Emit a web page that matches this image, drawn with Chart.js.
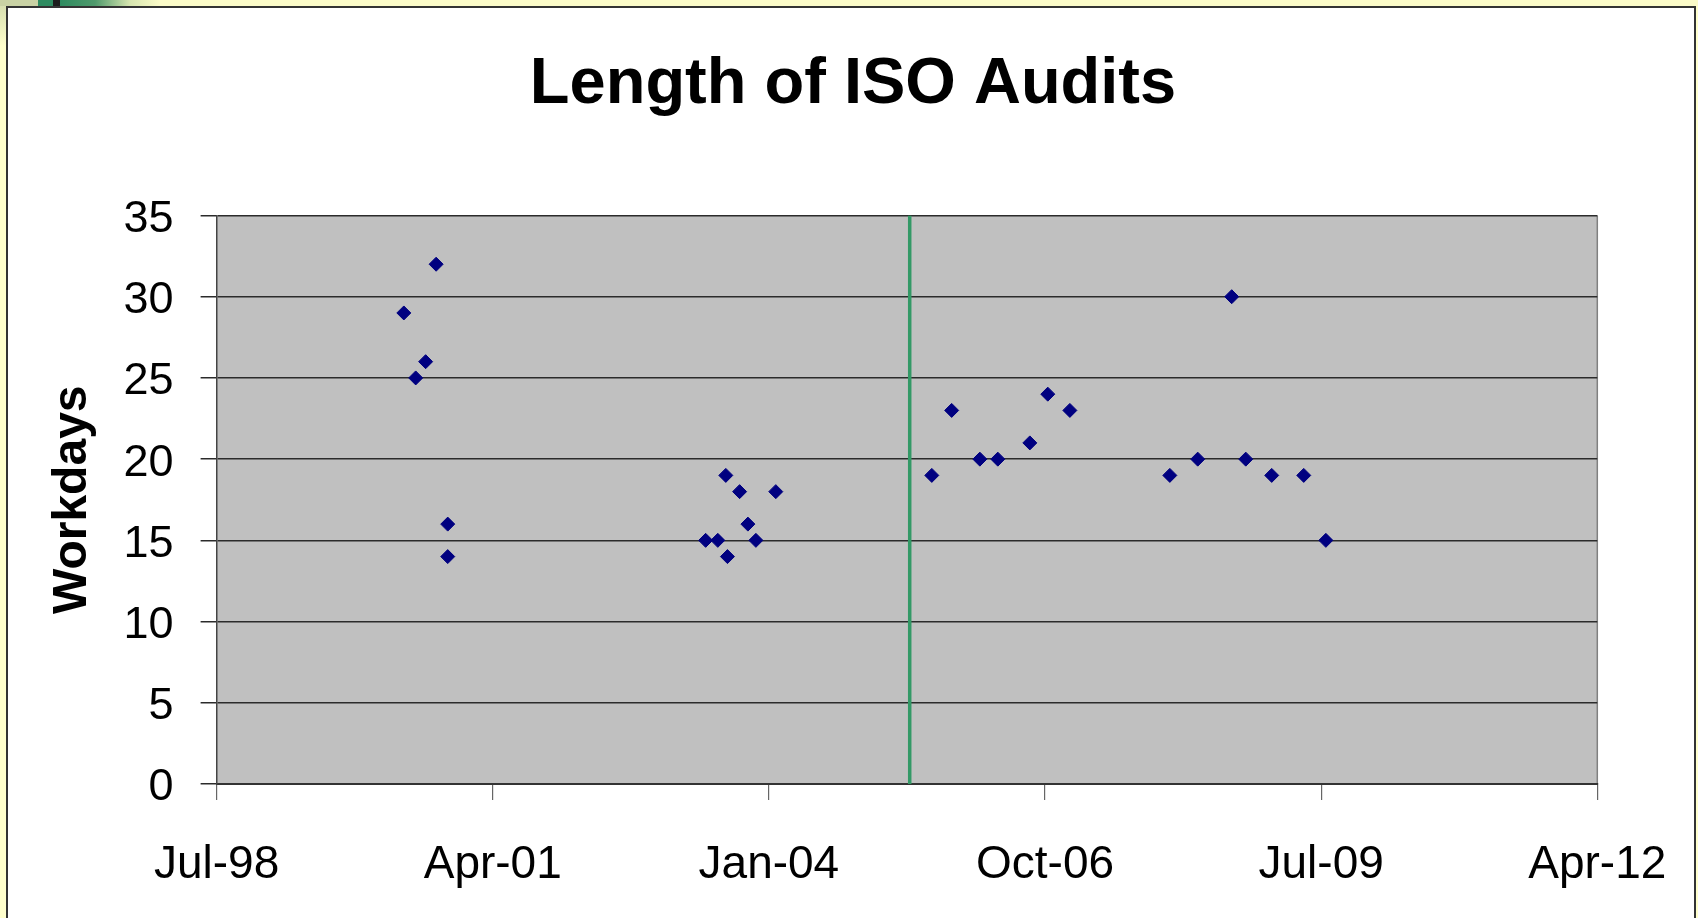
<!DOCTYPE html>
<html>
<head>
<meta charset="utf-8">
<script src="https://cdn.jsdelivr.net/npm/chart.js@4.4.1/dist/chart.umd.min.js"></script>
<style>
  html, body { margin: 0; padding: 0; width: 1698px; height: 918px; overflow: hidden; background: #FFFFCC; }
  #topstrip { position: absolute; left: 0; top: 0; width: 1698px; height: 6px;
    background: linear-gradient(to right, #c9d2a4 0px, #c9d2a4 38px, #2e8b60 38px, #2e8b60 53px, #1c1c1c 53px, #1c1c1c 60px, #2e8b60 60px, #4f9a6c 95px, #d7e6b0 130px, #fbfbc8 160px, #fbfbc8 1698px); }
  #leftstrip { position: absolute; left: 0; top: 6px; width: 6px; height: 40px; background: linear-gradient(#d8e0b0, #FFFFCC); }
  #panel { position: absolute; left: 6px; top: 6px; width: 1686px; height: 930px; background: #ffffff; border: 2px solid #333333; }
  #wrap { position: absolute; left: 0; top: 0; width: 1698px; height: 918px; }
</style>
</head>
<body>
<div id="topstrip"></div>
<div id="leftstrip"></div>
<div id="panel"></div>
<div id="wrap"><canvas id="c" width="1698" height="918"></canvas></div>
<script>
// ---- data ----
const chartTitle = 'Length of ISO Audits';
const yAxisTitle = 'Workdays';
const auditDates = [
  '2000-06-01', '2000-07-14', '2000-08-19', '2000-09-26', '2000-11-07', '2000-11-07',
  '2003-05-30', '2003-07-13', '2003-08-11', '2003-08-17', '2003-09-30', '2003-10-30', '2003-11-28', '2004-02-08',
  '2005-08-26', '2005-11-06', '2006-02-16', '2006-04-22', '2006-08-16', '2006-10-20', '2007-01-08',
  '2008-01-05', '2008-04-15', '2008-08-16', '2008-10-06', '2009-01-08', '2009-05-04', '2009-07-23'
];
const auditWorkdays = [
  29, 25, 26, 32, 16, 14,
  15, 15, 19, 14, 18, 16, 15, 18,
  19, 23, 20, 20, 21, 24, 23,
  19, 20, 30, 20, 19, 19, 15
];
const markerDate = '2005-06-07';
const markerRange = [0, 35];
const xTickValues = [36000, 37000, 38000, 39000, 40000, 41000]; // date serials
const xTickLabels = ['Jul-98', 'Apr-01', 'Jan-04', 'Oct-06', 'Jul-09', 'Apr-12'];
const yTickValues = [0, 5, 10, 15, 20, 25, 30, 35];

// date string -> spreadsheet date serial
function toSerial(s) {
  const [y, m, d] = s.split('-').map(Number);
  return Date.UTC(y, m - 1, d) / 86400000 + 25569;
}

const scatterData = auditDates.map((d, i) => ({ x: toSerial(d), y: auditWorkdays[i] }));
const markerData = markerRange.map(v => ({ x: toSerial(markerDate), y: v }));

const FONT = "'Liberation Sans', Arial, sans-serif";

const plotBg = {
  id: 'plotBg',
  beforeDraw(chart) {
    const { ctx, chartArea: a } = chart;
    ctx.save();
    ctx.fillStyle = '#C0C0C0';
    ctx.fillRect(a.left, a.top, a.right - a.left, a.bottom - a.top);
    ctx.strokeStyle = '#808080';
    ctx.lineWidth = 1.5;
    ctx.beginPath();
    ctx.moveTo(a.right, a.top);
    ctx.lineTo(a.right, a.bottom);
    ctx.stroke();
    ctx.restore();
  }
};

new Chart(document.getElementById('c'), {
  type: 'scatter',
  data: {
    datasets: [
      {
        label: 'Audits',
        data: scatterData,
        pointStyle: 'rectRot',
        pointRadius: 7,
        pointHoverRadius: 7,
        backgroundColor: '#000080',
        borderColor: '#000080',
        borderWidth: 1
      },
      {
        label: 'Change',
        data: markerData,
        showLine: true,
        pointRadius: 0,
        borderColor: '#339966',
        borderWidth: 3.5
      }
    ]
  },
  options: {
    responsive: false,
    animation: false,
    events: [],
    layout: { padding: { left: 8, top: 0, right: 0, bottom: 0 } },
    plugins: {
      legend: { display: false },
      tooltip: { enabled: false },
      title: {
        display: true,
        text: chartTitle,
        color: '#000000',
        font: { family: FONT, size: 65, weight: 'bold', lineHeight: 1.2 },
        padding: { top: 46, bottom: 91.5 }
      }
    },
    scales: {
      x: {
        type: 'linear',
        min: xTickValues[0],
        max: xTickValues[xTickValues.length - 1],
        afterBuildTicks(scale) { scale.ticks = xTickValues.map(v => ({ value: v })); },
        afterFit(scale) { scale.height = 134; scale.paddingLeft = 0; scale.paddingRight = 0; },
        ticks: {
          padding: 38,
          color: '#000000',
          font: { family: FONT, size: 46, lineHeight: 1.2 },
          maxRotation: 0,
          autoSkip: false,
          callback: (v, i) => xTickLabels[i]
        },
        grid: { drawOnChartArea: false, drawTicks: true, tickLength: 16, color: '#666666', lineWidth: 1.2 },
        border: { display: true, color: '#333333', width: 2 }
      },
      y: {
        type: 'linear',
        position: 'left',
        min: yTickValues[0],
        max: yTickValues[yTickValues.length - 1],
        afterBuildTicks(scale) { scale.ticks = yTickValues.map(v => ({ value: v })); },
        afterFit(scale) { scale.width = 208.6; },
        ticks: {
          padding: 27,
          labelOffset: 4,
          color: '#000000',
          font: { family: FONT, size: 45, lineHeight: 1.2 },
          callback: (v) => String(v)
        },
        grid: { drawOnChartArea: true, drawTicks: true, tickLength: 16, color: '#2b2b2b', lineWidth: 1.5 },
        border: { display: true, color: '#444444', width: 1.5 },
        title: {
          display: true,
          text: yAxisTitle,
          color: '#000000',
          font: { family: FONT, size: 48, weight: 'bold', lineHeight: 1.2 },
          padding: { top: 36, bottom: 0 }
        }
      },
      yRightSpace: {
        type: 'linear',
        position: 'right',
        display: true,
        min: 0,
        max: 1,
        afterFit(scale) { scale.width = 100.7; },
        ticks: { display: false },
        grid: { display: false, drawTicks: false },
        border: { display: false }
      }
    }
  },
  plugins: [plotBg]
});
</script>
</body>
</html>
